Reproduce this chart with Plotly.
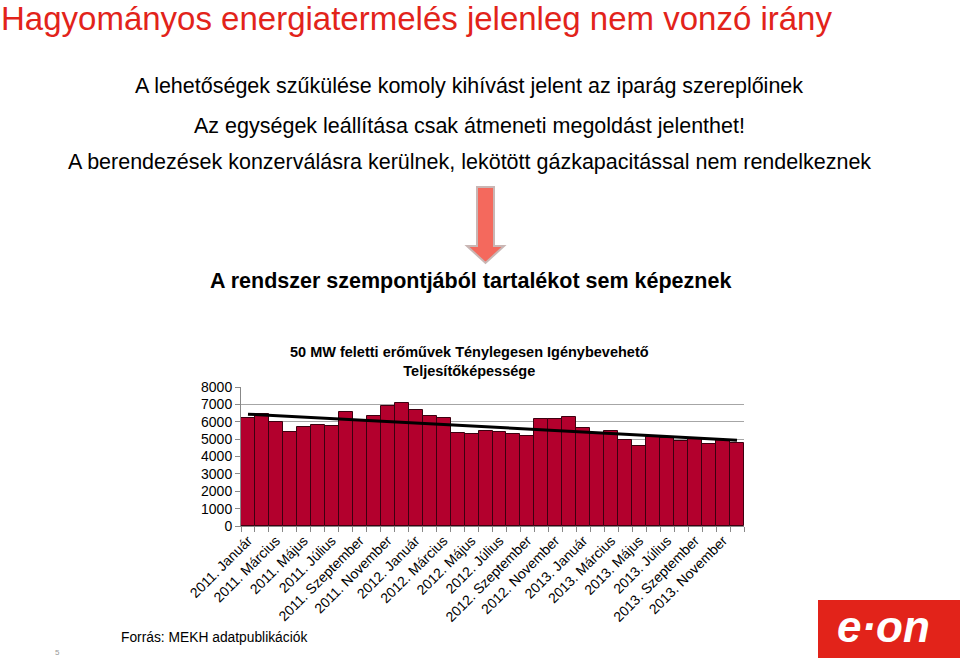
import numpy as np
import plotly.graph_objects as go

# havi adatok, 2011. január - 2013. december (MW)
evek = ["2011", "2012", "2013"]
honapok = ["Január", "Február", "Március", "Április", "Május", "Június",
           "Július", "Augusztus", "Szeptember", "Október", "November", "December"]
kategoriak = [f"{e}. {h}" for e in evek for h in honapok]

teljesitokepesseg = [
    6220, 6470, 6000, 5430, 5700, 5840, 5760, 6590, 6050, 6310, 6910, 7080,
    6700, 6310, 6200, 5340, 5280, 5470, 5390, 5280, 5200, 6140, 6180, 6300,
    5660, 5320, 5470, 4970, 4630, 5120, 5070, 4890, 5010, 4740, 4950, 4760,
]

tick_szoveg = [k if i % 2 == 0 else "" for i, k in enumerate(kategoriak)]
y_tickek = [0, 1000, 2000, 3000, 4000, 5000, 6000, 7000, 8000]

# linearis trend
idx = np.arange(len(teljesitokepesseg))
m, c = np.polyfit(idx, teljesitokepesseg, 1)
trend = m * idx + c

W, H = 960, 658
L, R, T, B = 241, 216, 387, 132
PW, PH = W - L - R, H - T - B


def px(x):
    return (x - L) / PW


def py(y):
    return (H - B - y) / PH


FONT = "Arial, Liberation Sans, sans-serif"

fig = go.Figure()
fig.add_trace(go.Bar(
    x=kategoriak, y=teljesitokepesseg,
    marker=dict(color="#b3002d", line=dict(color="#3d0010", width=1)),
    showlegend=False,
))
fig.add_trace(go.Scatter(
    x=kategoriak, y=trend, mode="lines",
    line=dict(color="black", width=3), showlegend=False,
))

fig.update_layout(
    width=W, height=H,
    margin=dict(l=L, r=R, t=T, b=B),
    paper_bgcolor="white", plot_bgcolor="white",
    bargap=0,
    font=dict(family=FONT, color="black"),
)
fig.update_xaxes(
    tickmode="array", tickvals=kategoriak, ticktext=tick_szoveg,
    tickangle=-45, tickson="boundaries", ticks="outside", ticklen=5,
    tickcolor="#888888", showline=True, linecolor="#888888",
    tickfont=dict(size=14, family=FONT), showgrid=False,
)
fig.update_yaxes(
    range=[0, 8000], tickvals=y_tickek, ticks="outside", ticklen=5,
    tickcolor="#888888", showline=True, linecolor="#888888",
    gridcolor="#a6a6a6", gridwidth=1, tickfont=dict(size=14, family=FONT),
    zeroline=False,
)

annots = [
    dict(text="Hagyományos energiatermelés jelenleg nem vonzó irány",
         x=px(0), y=py(18), xanchor="left", size=33, color="#e2231a"),
    dict(text="A lehetőségek szűkülése komoly kihívást jelent az iparág szereplőinek",
         x=px(469), y=py(86), size=21.5),
    dict(text="Az egységek leállítása csak átmeneti megoldást jelenthet!",
         x=px(469), y=py(126), size=21.5),
    dict(text="A berendezések konzerválásra kerülnek, lekötött gázkapacitással nem rendelkeznek",
         x=px(469), y=py(162), size=21.5),
    dict(text="<b>A rendszer szempontjából tartalékot sem képeznek</b>",
         x=px(470), y=py(281), size=21.5),
    dict(text="<b>50 MW feletti erőművek Ténylegesen Igénybevehető<br>Teljesítőképessége</b>",
         x=px(469), y=py(361), size=14.5),
    dict(text="Forrás: MEKH adatpublikációk",
         x=px(120), y=py(637), xanchor="left", size=13.8),
    dict(text="5", x=px(57), y=py(652), size=8, color="#999999"),
]
for a in annots:
    fig.add_annotation(
        text=a["text"], x=a["x"], y=a["y"], xref="paper", yref="paper",
        xanchor=a.get("xanchor", "center"), yanchor="middle", showarrow=False,
        borderpad=0,
        font=dict(family=FONT, size=a["size"], color=a.get("color", "black")),
    )

# lefele mutato nyil
nyil = [(477, 187), (494, 187), (494, 246), (504, 246), (485.5, 263),
        (467, 246), (477, 246)]
path = "M " + " L ".join(f"{px(x)},{py(y)}" for x, y in nyil) + " Z"
fig.add_shape(type="path", path=path, xref="paper", yref="paper",
              fillcolor="#f4695d", line=dict(color="#c9b6b4", width=2))

# E.ON logo
fig.add_shape(type="rect", xref="paper", yref="paper",
              x0=px(818), x1=px(962), y0=py(600), y1=py(660),
              fillcolor="#e2231a", line=dict(width=0))
fig.add_annotation(
    text="<b><i>e·on</i></b>", x=px(835), y=py(626), xref="paper", yref="paper",
    xanchor="left", yanchor="middle",
    showarrow=False, font=dict(family=FONT, size=44, color="white"),
)

fig.write_html("out.html", config={"displayModeBar": False},
               post_script="document.body.style.margin='0px';")
